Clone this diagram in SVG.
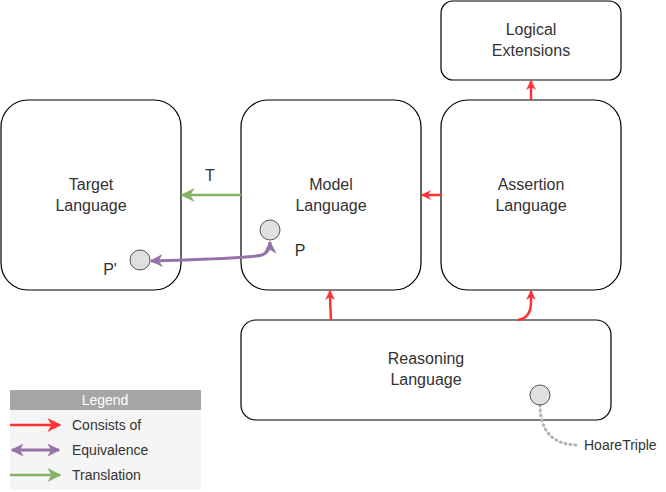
<svg xmlns="http://www.w3.org/2000/svg" width="666" height="492" viewBox="0 0 666 492">
<style>
.box{fill:#fff;stroke:#000;stroke-width:1.2}
.lbl{font-family:"Liberation Sans",Arial,sans-serif;font-size:16px;fill:#333;text-anchor:middle}
.sm{font-family:"Liberation Sans",Arial,sans-serif;font-size:14px;fill:#333}
.dot{fill:#e0e0e0;stroke:#555;stroke-width:1}
.red{fill:none;stroke:#ff3333;stroke-width:2.5}
.pur{fill:none;stroke:#9673a6;stroke-width:3}
.grn{fill:none;stroke:#82b366;stroke-width:2.5}
</style>
<defs>
<marker id="ar" viewBox="0 0 10 10" refX="9" refY="5" markerUnits="userSpaceOnUse" markerWidth="10" markerHeight="10" orient="auto"><path d="M0,0 L10,5 L0,10 L3,5 Z" fill="#ff3333"/></marker>
<marker id="ap" viewBox="0 0 10 10" refX="9" refY="5" markerUnits="userSpaceOnUse" markerWidth="13" markerHeight="13" orient="auto"><path d="M0,0 L10,5 L0,10 L3,5 Z" fill="#9673a6"/></marker>
<marker id="aps" viewBox="0 0 10 10" refX="1" refY="5" markerUnits="userSpaceOnUse" markerWidth="13" markerHeight="13" orient="auto"><path d="M10,0 L0,5 L10,10 L7,5 Z" fill="#9673a6"/></marker>
<marker id="ag" viewBox="0 0 10 10" refX="9" refY="5" markerUnits="userSpaceOnUse" markerWidth="14" markerHeight="14" orient="auto"><path d="M0,0 L10,5 L0,10 L3,5 Z" fill="#82b366"/></marker>
<marker id="arL" viewBox="0 0 10 10" refX="9" refY="5" markerUnits="userSpaceOnUse" markerWidth="14" markerHeight="14" orient="auto"><path d="M0,0 L10,5 L0,10 L3,5 Z" fill="#ff3333"/></marker>
</defs>

<g id="target"><rect class="box" x="1" y="100" width="180" height="190" rx="27"/><text class="lbl" x="91" y="190">Target</text><text class="lbl" x="91" y="211">Language</text></g>
<g id="model"><rect class="box" x="241" y="100" width="180" height="190" rx="27"/><text class="lbl" x="331" y="190">Model</text><text class="lbl" x="331" y="211">Language</text></g>
<g id="assertion"><rect class="box" x="441" y="100" width="180" height="190" rx="27"/><text class="lbl" x="531" y="190">Assertion</text><text class="lbl" x="531" y="211">Language</text></g>
<g id="logical"><rect class="box" x="441" y="1" width="180" height="79" rx="12"/><text class="lbl" x="531" y="35">Logical</text><text class="lbl" x="531" y="56">Extensions</text></g>
<g id="reasoning"><rect class="box" x="241" y="320" width="370" height="100" rx="15"/><text class="lbl" x="426" y="364">Reasoning</text><text class="lbl" x="426" y="385">Language</text></g>

<g id="connectors">
<path class="red" d="M531,100 L531,81" marker-end="url(#ar)"/>
<path class="red" d="M441,195 L422,195" marker-end="url(#ar)"/>
<path class="grn" d="M241,195 L182,195" marker-end="url(#ag)"/>
<path class="red" d="M331,320 Q330,305 330,291" marker-end="url(#ar)"/>
<path class="red" d="M518,320 Q531,318 531,302 L531,291" marker-end="url(#ar)"/>
<path class="pur" d="M151,261 C200,259 245,259 262,255 Q270,252 270,242" marker-start="url(#aps)" marker-end="url(#ap)"/>
<path d="M540,405 C540,430 552,445 578,445" fill="none" stroke="#b3b3b3" stroke-width="3" stroke-dasharray="1,4" stroke-linecap="round"/>
</g>

<g id="p-prime"><circle class="dot" cx="140" cy="260" r="10"/><text class="lbl" x="110" y="275">P'</text></g>
<g id="p"><circle class="dot" cx="270" cy="230" r="10"/><text class="lbl" x="300" y="256">P</text></g>
<g id="t-label"><text class="lbl" x="210" y="181">T</text></g>
<g id="hoare"><circle class="dot" cx="540" cy="395" r="10"/><text class="sm" x="584" y="450" font-size="13">HoareTriple</text></g>

<g id="legend">
<rect x="10" y="390" width="191" height="100" fill="#f5f5f5"/>
<rect x="10" y="390" width="191" height="20" fill="#a6a6a6"/>
<text x="105" y="405" font-family="Liberation Sans,Arial,sans-serif" font-size="14" fill="#fff" text-anchor="middle">Legend</text>
<path class="red" d="M10,425 L60,425" marker-end="url(#arL)"/>
<text class="sm" x="72" y="430">Consists of</text>
<path class="pur" d="M12,450 L59,450" marker-start="url(#aps)" marker-end="url(#ap)"/>
<text class="sm" x="72" y="455">Equivalence</text>
<path class="grn" d="M10,475 L60,475" marker-end="url(#ag)"/>
<text class="sm" x="72" y="480">Translation</text>
</g>
</svg>
